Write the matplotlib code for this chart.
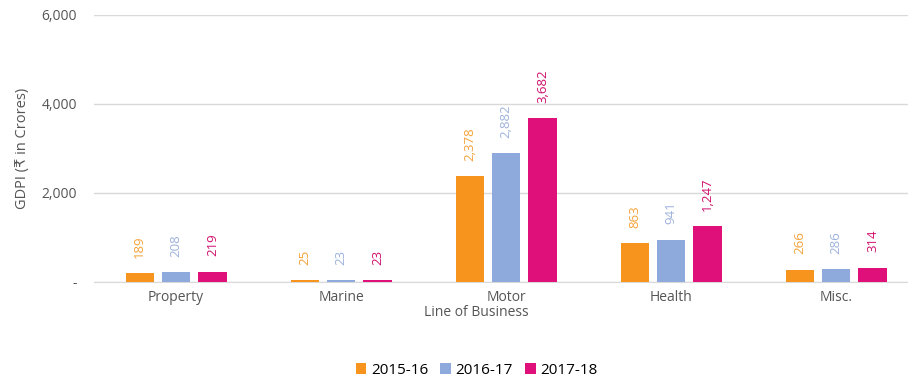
import matplotlib.pyplot as plt
import numpy as np

plt.rcParams['font.family'] = ['Open Sans', 'DejaVu Sans']

categories = ['Property', 'Marine', 'Motor', 'Health', 'Misc.']
years = ['2015-16', '2016-17', '2017-18']
gdpi_1516 = [189, 25, 2378, 863, 266]
gdpi_1617 = [208, 23, 2882, 941, 286]
gdpi_1718 = [219, 23, 3682, 1247, 314]

bar_colors = ['#F7941D', '#8EA9DB', '#E0107A']
label_colors = ['#F5A23A', '#9DB2DC', '#D0106E']

fig = plt.figure(figsize=(9.08, 3.83), dpi=100)
# plot area runs slightly past the right edge of the canvas
ax = fig.add_axes([0.103, 0.265, 0.9086, 0.696])

index = np.arange(len(categories))
bar_width = 0.17
pitch = 0.221
series = [gdpi_1516, gdpi_1617, gdpi_1718]
for k, vals in enumerate(series):
    pos = index + (k - 1) * pitch
    ax.bar(pos, vals, bar_width, color=bar_colors[k], label=years[k], zorder=3)
    for x, v in zip(pos, vals):
        ax.annotate(f'{v:,}', (x, v), xytext=(0, 11), textcoords='offset points',
                    rotation=90, ha='center', va='bottom', fontsize=9.5,
                    color=label_colors[k])

ax.set_xlim(-0.5, 4.5)
ax.set_ylim(0, 6000)
ax.set_yticks([0, 2000, 4000, 6000])
ax.set_yticklabels(['-', '2,000', '4,000', '6,000'], fontsize=10, color='#555555')
ax.set_xticks(index)
ax.set_xticklabels(categories, fontsize=10, color='#555555')
ax.tick_params(axis='both', length=0, pad=12)
ax.tick_params(axis='x', pad=6)
ax.grid(axis='y', color='#D9D9D9', linewidth=1, zorder=0)
for side in ['top', 'right', 'left']:
    ax.spines[side].set_visible(False)
ax.spines['bottom'].set_color('#D9D9D9')

ax.set_ylabel('GDPI (₹ in Crores)', fontsize=10.5, color='#555555', labelpad=8)
fig.text(0.525, 0.183, 'Line of Business', ha='center', va='center',
         fontsize=10, color='#555555')

ax.legend(loc='center', bbox_to_anchor=(0.525, 0.033), bbox_transform=fig.transFigure,
          ncol=3, frameon=False, fontsize=11, handlelength=0.7, handleheight=0.7,
          handletextpad=0.3, columnspacing=0.8)

fig.savefig('out.png', dpi=100)
